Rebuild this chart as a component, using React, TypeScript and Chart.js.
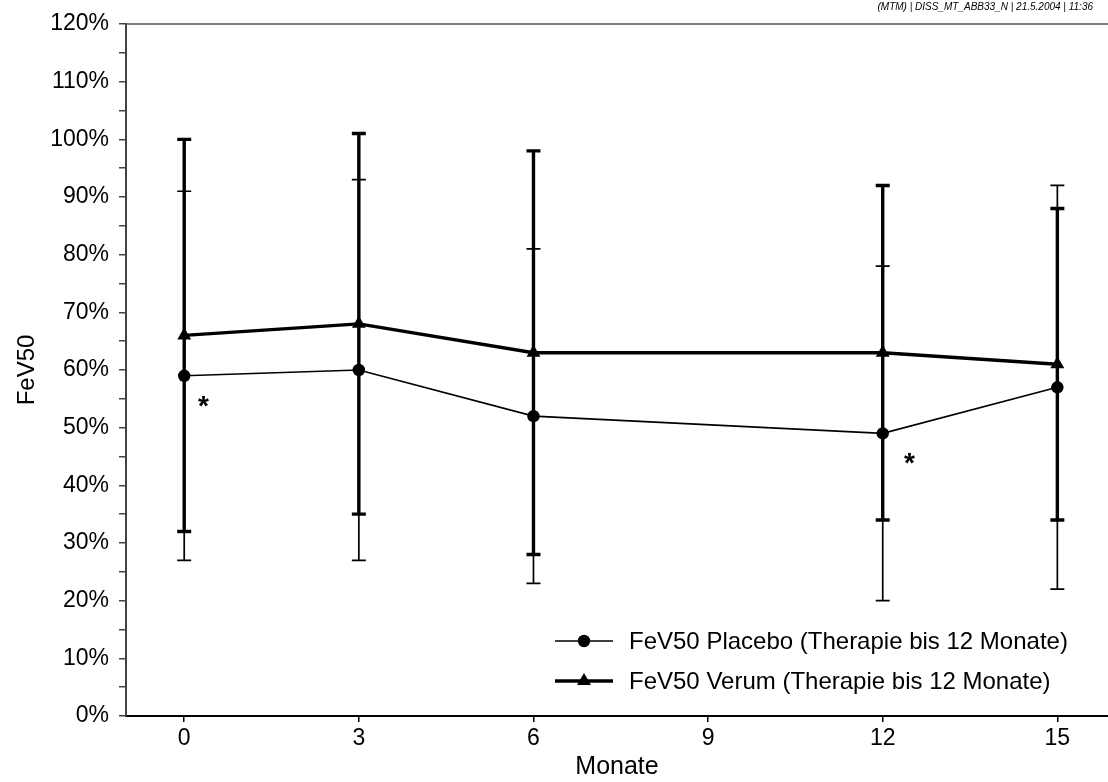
import React, { useEffect, useRef } from 'react';
import { Chart, registerables } from 'chart.js';

Chart.register(...registerables);

const FONT = '"Liberation Sans", Arial, Helvetica, sans-serif';

// ---- data ----
const months = [0, 3, 6, 12, 15];
const placeboLabel = 'FeV50 Placebo (Therapie bis 12 Monate)';
const placeboMean = [59, 60, 52, 49, 57];
const placeboLow = [27, 27, 23, 20, 22];
const placeboHigh = [91, 93, 81, 78, 92];
const verumLabel = 'FeV50 Verum (Therapie bis 12 Monate)';
const verumMean = [66, 68, 63, 63, 61];
const verumLow = [32, 35, 28, 34, 34];
const verumHigh = [100, 101, 98, 92, 88];
const xTicks = [0, 3, 6, 9, 12, 15];
const asteriskX = [0.33, 12.46];
const asteriskY = [54.6, 44.7];
const headerText = '(MTM) | DISS_MT_ABB33_N | 21.5.2004 | 11:36';
const xTitle = 'Monate';
const yTitle = 'FeV50';

export default function App() {
  const ref = useRef<HTMLCanvasElement>(null);

  useEffect(() => {
    document.body.style.margin = '0';
    const canvas = ref.current!;

    const errorBars = {
      id: 'errorBars',
      beforeDatasetsDraw(chart: any) {
        const { ctx, scales } = chart;
        const xs = scales.x;
        const ys = scales.y;
        const series = [
          { low: placeboLow, high: placeboHigh, lw: 1.7 },
          { low: verumLow, high: verumHigh, lw: 3.4 },
        ];
        ctx.save();
        ctx.strokeStyle = '#000';
        ctx.lineCap = 'butt';
        for (const s of series) {
          ctx.lineWidth = s.lw;
          months.forEach((m, i) => {
            const x = xs.getPixelForValue(m);
            const yl = ys.getPixelForValue(s.low[i]);
            const yh = ys.getPixelForValue(s.high[i]);
            ctx.beginPath();
            ctx.moveTo(x, yl);
            ctx.lineTo(x, yh);
            ctx.moveTo(x - 7, yl);
            ctx.lineTo(x + 7, yl);
            ctx.moveTo(x - 7, yh);
            ctx.lineTo(x + 7, yh);
            ctx.stroke();
          });
        }
        ctx.restore();
      },
    };

    const overlay = {
      id: 'overlay',
      afterDraw(chart: any) {
        const { ctx, chartArea, scales } = chart;
        ctx.save();
        // top frame line
        ctx.strokeStyle = '#555';
        ctx.lineWidth = 1.5;
        ctx.beginPath();
        ctx.moveTo(chartArea.left, chartArea.top);
        ctx.lineTo(chart.width, chartArea.top);
        ctx.stroke();

        // header
        ctx.fillStyle = '#000';
        ctx.font = `italic 10px ${FONT}`;
        ctx.textAlign = 'right';
        ctx.textBaseline = 'middle';
        ctx.fillText(headerText, 1093, 7);

        // asterisks
        ctx.font = `bold 28px ${FONT}`;
        ctx.textAlign = 'center';
        ctx.textBaseline = 'alphabetic';
        const mt = ctx.measureText('*');
        const asc = mt.actualBoundingBoxAscent;
        const desc = mt.actualBoundingBoxDescent;
        asteriskX.forEach((ax, i) => {
          const px = scales.x.getPixelForValue(ax);
          const py = scales.y.getPixelForValue(asteriskY[i]);
          ctx.fillText('*', px, py + (asc - desc) / 2);
        });

        // legend
        const rows = [
          { label: placeboLabel, lw: 1.7, style: 'circle', y: chartArea.bottom - 75 },
          { label: verumLabel, lw: 3.4, style: 'triangle', y: chartArea.bottom - 35 },
        ];
        ctx.font = `24px ${FONT}`;
        ctx.textAlign = 'left';
        ctx.textBaseline = 'middle';
        for (const r of rows) {
          ctx.strokeStyle = '#000';
          ctx.lineWidth = r.lw;
          ctx.beginPath();
          ctx.moveTo(555, r.y);
          ctx.lineTo(613, r.y);
          ctx.stroke();
          ctx.fillStyle = '#000';
          ctx.beginPath();
          if (r.style === 'circle') {
            ctx.arc(584, r.y, 6.2, 0, Math.PI * 2);
          } else {
            const rr = 8;
            ctx.moveTo(584, r.y - rr);
            ctx.lineTo(584 + rr * 0.866, r.y + rr * 0.5);
            ctx.lineTo(584 - rr * 0.866, r.y + rr * 0.5);
            ctx.closePath();
          }
          ctx.fill();
          ctx.fillText(r.label, 629, r.y + 1);
        }
        ctx.restore();
      },
    };

    const chart = new Chart(canvas, {
      type: 'line',
      data: {
        datasets: [
          {
            label: placeboLabel,
            data: months.map((m, i) => ({ x: m, y: placeboMean[i] })),
            borderColor: '#000',
            backgroundColor: '#000',
            borderWidth: 1.7,
            pointStyle: 'circle',
            pointRadius: 6.2,
            pointBorderWidth: 0,
            pointBackgroundColor: '#000',
            tension: 0,
          },
          {
            label: verumLabel,
            data: months.map((m, i) => ({ x: m, y: verumMean[i] })),
            borderColor: '#000',
            backgroundColor: '#000',
            borderWidth: 3.4,
            pointStyle: 'triangle',
            pointRadius: 8,
            pointBorderWidth: 0,
            pointBackgroundColor: '#000',
            tension: 0,
          },
        ],
      },
      options: {
        responsive: false,
        animation: false,
        devicePixelRatio: 1,
        layout: { autoPadding: false, padding: { top: 24, right: 0, left: 0, bottom: 0 } },
        plugins: {
          legend: { display: false },
          tooltip: { enabled: false },
        },
        scales: {
          x: {
            type: 'linear',
            min: -1,
            max: 15.87,
            afterBuildTicks: (scale: any) => {
              scale.ticks = xTicks.map((v) => ({ value: v }));
            },
            afterFit: (scale: any) => {
              scale.height = 66;
              scale.paddingLeft = 0;
              scale.paddingRight = 0;
            },
            grid: { drawOnChartArea: false, drawTicks: true, tickLength: 6, color: '#000', lineWidth: 1.5 },
            border: { display: true, color: '#000', width: 2 },
            ticks: {
              color: '#000',
              font: { family: FONT, size: 23 },
              padding: 3,
              maxRotation: 0,
              autoSkip: false,
              callback: (v: any) => String(v),
            },
            title: {
              display: true,
              text: xTitle,
              color: '#000',
              font: { family: FONT, size: 25 },
              padding: { top: 0, bottom: 0 },
            },
          },
          y: {
            type: 'linear',
            min: 0,
            max: 120,
            afterFit: (scale: any) => {
              scale.width = 126;
              scale.paddingTop = 0;
              scale.paddingBottom = 0;
            },
            grid: { drawOnChartArea: false, drawTicks: true, tickLength: 7, color: '#444', lineWidth: 1.5 },
            border: { display: true, color: '#444', width: 2 },
            ticks: {
              stepSize: 5,
              color: '#000',
              font: { family: FONT, size: 23 },
              padding: 10,
              autoSkip: false,
              callback: (v: any) => (Number(v) % 10 === 0 ? `${v}%` : ''),
            },
            title: {
              display: true,
              text: yTitle,
              color: '#000',
              font: { family: FONT, size: 24 },
              padding: { top: 13, bottom: 0 },
            },
          },
        },
      },
      plugins: [errorBars, overlay],
    } as any);

    return () => chart.destroy();
  }, []);

  return (
    <div style={{ width: 1108, height: 782 }}>
      <canvas ref={ref} width={1108} height={782} style={{ display: 'block', width: 1108, height: 782 }} />
    </div>
  );
}
